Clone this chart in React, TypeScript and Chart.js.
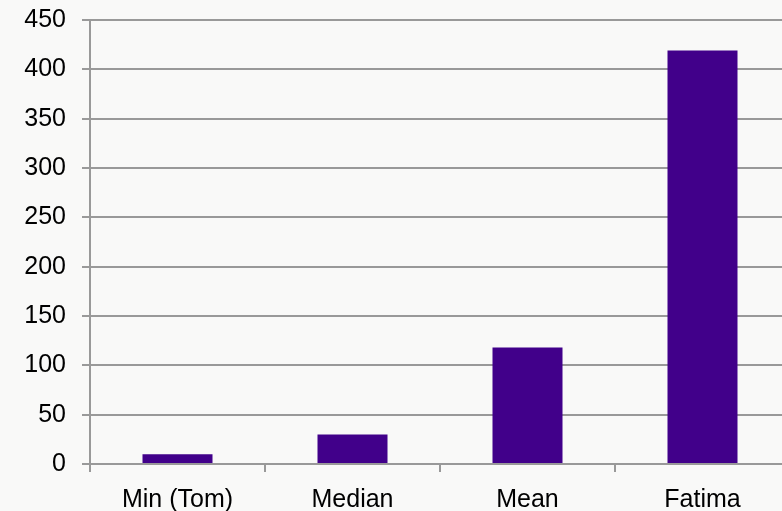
import React, { useEffect, useRef } from "react";
import { Chart, registerables } from "chart.js";

Chart.register(...registerables);

const categories = ["Min (Tom)", "Median", "Mean", "Fatima"];
const values = [10, 30, 118, 419];
const yTicks = [0, 50, 100, 150, 200, 250, 300, 350, 400, 450];

export default function App() {
  const ref = useRef<HTMLCanvasElement | null>(null);
  useEffect(() => {
    document.body.style.margin = "0";
    const ctx = ref.current!;
    const chart = new Chart(ctx, {
      type: "bar",
      data: {
        labels: categories,
        datasets: [
          {
            data: values,
            backgroundColor: "#41008a",
            borderWidth: 0,
            barPercentage: 0.4,
            categoryPercentage: 1,
          },
        ],
      },
      options: {
        animation: false,
        responsive: false,
        maintainAspectRatio: false,
        layout: { padding: { top: 20, right: 10, left: 0, bottom: 0 } },
        plugins: { legend: { display: false }, tooltip: { enabled: false } },
        scales: {
          x: {
            grid: {
              display: true,
              drawOnChartArea: false,
              drawTicks: true,
              tickLength: 8,
              color: "#999999",
              lineWidth: 2,
              offset: true,
            },
            border: { display: true, color: "#999999", width: 2 },
            ticks: {
              color: "#000000",
              font: { family: "'Liberation Sans', Arial, sans-serif", size: 25 },
              padding: 13,
              maxRotation: 0,
            },
            afterFit: (s: any) => {
              s.height = 47;
              s.paddingLeft = 0;
              s.paddingRight = 0;
            },
          },
          y: {
            min: 0,
            max: 450,
            afterBuildTicks: (s: any) => {
              s.ticks = yTicks.map((v) => ({ value: v }));
            },
            grid: {
              color: "#999999",
              lineWidth: 2,
              tickLength: 8,
              drawTicks: true,
            },
            border: { display: true, color: "#999999", width: 2 },
            ticks: {
              color: "#000000",
              font: { family: "'Liberation Sans', Arial, sans-serif", size: 25 },
              padding: 16,
            },
            afterFit: (s: any) => {
              s.width = 90;
              s.paddingTop = 0;
              s.paddingBottom = 0;
            },
          },
        },
      },
    });
    return () => chart.destroy();
  }, []);
  return (
    <div
      style={{
        position: "fixed",
        left: 0,
        top: 0,
        width: 782,
        height: 511,
        overflow: "hidden",
        background: "#f9f9f8",
      }}
    >
      <canvas ref={ref} width={800} height={511} style={{ display: "block" }} />
    </div>
  );
}
